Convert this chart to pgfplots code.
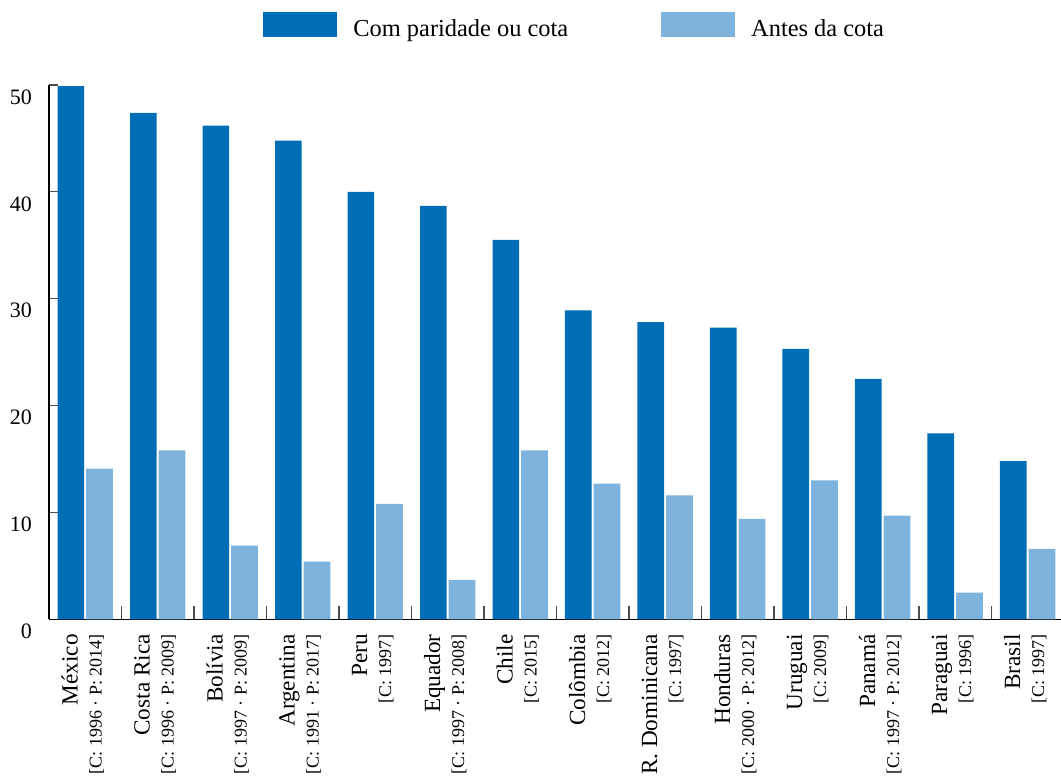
\documentclass[border=0pt]{standalone}
\usepackage{fontspec}
\setmainfont{Liberation Serif}
\usepackage{pgfplots}
\pgfplotsset{compat=1.18}

\definecolor{escuro}{RGB}{0,110,182}
\definecolor{claro}{RGB}{125,179,220}

% two-line category label: name, then the years in smaller type
\newcommand{\lab}[2]{{\fontsize{11.6}{12.5}\selectfont #1}\\{\fontsize{9}{12.5}\selectfont #2}}

\begin{document}
\begin{tikzpicture}
\begin{axis}[
    name=ax,
    scale only axis,
    width=506pt, height=267.15pt,
    ybar=1pt, bar width=13.35pt,
    xmin=-0.5, xmax=13.46,
    ymin=0, ymax=50,
    enlargelimits=false,
    axis x line*=bottom, axis y line*=left,
    axis line style={-, line width=0.6pt, black},
    tick align=inside,
    xtick={0,...,13},
    xticklabels={
        {\lab{México}{[C: 1996 · P: 2014]}},
        {\lab{Costa Rica}{[C: 1996 · P: 2009]}},
        {\lab{Bolívia}{[C: 1997 · P: 2009]}},
        {\lab{Argentina}{[C: 1991 · P: 2017]}},
        {\lab{Peru}{[C: 1997]}},
        {\lab{Equador}{[C: 1997 · P: 2008]}},
        {\lab{Chile}{[C: 2015]}},
        {\lab{Colômbia}{[C: 2012]}},
        {\lab{R. Dominicana}{[C: 1997]}},
        {\lab{Honduras}{[C: 2000 · P: 2012]}},
        {\lab{Uruguai}{[C: 2009]}},
        {\lab{Panamá}{[C: 1997 · P: 2012]}},
        {\lab{Paraguai}{[C: 1996]}},
        {\lab{Brasil}{[C: 1997]}}
    },
    xticklabel style={xshift=-1.25pt, yshift=-4pt,
        rotate=90, anchor=east, align=right},
    major x tick style={draw=none},
    minor xtick={0.5,1.5,...,12.5},
    minor tick length=6.5pt,
    minor x tick style={black!70, line width=0.6pt},
    ytick={0,10,...,50},
    major tick length=4.5pt,
    ytick style={black!70, line width=0.6pt},
    yticklabel style={font=\fontsize{11}{13}\selectfont, yshift=-6pt, xshift=-5pt},
    /pgf/number format/assume math mode=true,
    legend columns=2,
    legend style={draw=none, fill=none, inner sep=0pt,
        at={(0.2115,1)}, anchor=south west, yshift=20.5pt,
        font=\fontsize{12.2}{14}\selectfont,
        /tikz/every odd column/.append style={column sep=6pt},
        /tikz/every even column/.append style={column sep=44.5pt}},
    legend image code/.code={\fill[#1] (0pt,-3.5pt) rectangle (37pt,9pt);},
]
\addplot[fill=escuro, draw=none] coordinates {
    (0,49.9) (1,47.4) (2,46.2) (3,44.8) (4,40.0) (5,38.7) (6,35.5)
    (7,28.9) (8,27.8) (9,27.3) (10,25.3) (11,22.5) (12,17.4) (13,14.8)
};
\addlegendentry{Com paridade ou cota}
\addplot[fill=claro, draw=none] coordinates {
    (0,14.1) (1,15.8) (2,6.9) (3,5.4) (4,10.8) (5,3.7) (6,15.8)
    (7,12.7) (8,11.6) (9,9.4) (10,13.0) (11,9.7) (12,2.5) (13,6.6)
};
\addlegendentry{Antes da cota}
\end{axis}
\pgfresetboundingbox
\path[use as bounding box] ([shift={(-24.5pt,-78.35pt)}]ax.south west)
    rectangle ([shift={(506pt,309.65pt)}]ax.south west);
\end{tikzpicture}
\end{document}
